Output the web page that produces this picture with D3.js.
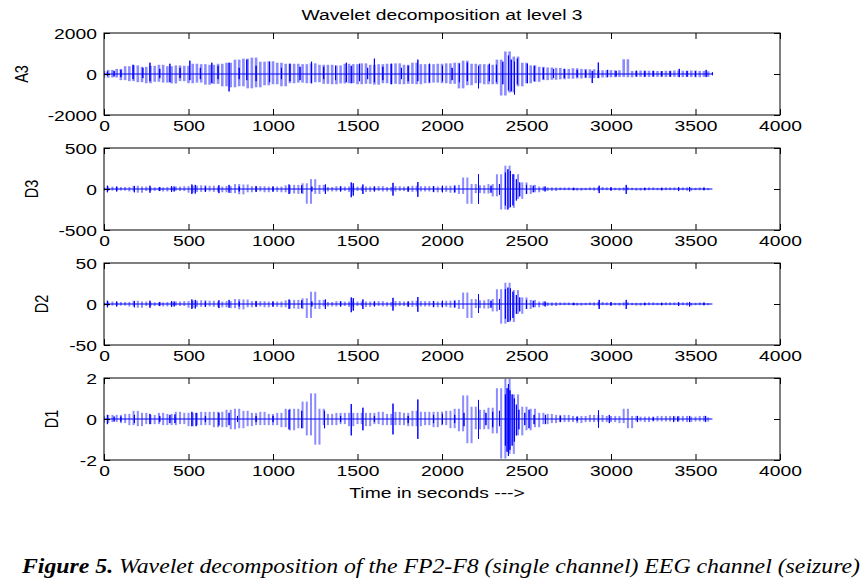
<!DOCTYPE html>
<html><head><meta charset="utf-8">
<script src="https://cdn.jsdelivr.net/npm/d3@7"></script>
<style>body{margin:0;background:#fff}svg{display:block}</style>
</head><body>
<svg id="c" width="864" height="588"></svg>
<script>
// ---------- data ----------
const titleText = "Wavelet decomposition at level 3";
const xLabelText = "Time in seconds --->";
const captionBold = "Figure 5.";
const captionRest = " Wavelet decomposition of the FP2-F8 (single channel) EEG channel (seizure)";
const xTicks = [0, 500, 1000, 1500, 2000, 2500, 3000, 3500, 4000];
const panelNames = ["A3", "D3", "D2", "D1"];
const a3Ticks = [-2000, 0, 2000];
const d3Ticks = [-500, 0, 500];
const d2Ticks = [-50, 0, 50];
const d1Ticks = [-2, 0, 2];
// sample times of the light (dense) trace, seconds
const bandTimes = d3.range(0, 3601, 25);

const a3Band = [150,-180,200,-170,250,
 -300,380,-350,420,-400,350,-450,400,
 -380,450,-420,380,-460,420,-350,400,
 -450,500,-420,480,-520,450,-480,500,
 -600,550,-650,700,-600,750,-700,800,
 -650,600,-550,620,-500,550,-600,500,
 -450,500,-420,480,-450,520,-400,450,
 -480,450,-500,420,-460,500,-450,480,
 -500,520,-480,450,-520,480,-450,500,
 -480,520,-500,450,-480,550,-500,480,
 -450,480,-420,500,-450,520,-480,550,
 -700,650,-550,500,-450,480,-500,450,
 -500,700,-1050,1100,-900,850,-600,550,
 -450,420,-380,350,-300,320,-280,300,
 -260,250,-230,280,-220,250,-200,230,
 -200,180,-170,190,-160,180,-150,720,
 -160,150,-140,170,-150,160,-140,150,
 -150,160,-140,170,-150,160,-150,170,
 -160,150,-140,130];
const d3Band = [20,-25,30,-20,25,
 -20,25,-30,40,-45,30,-25,20,
 -25,20,-30,25,-20,30,-25,35,
 -45,40,-35,45,-30,40,-35,30,
 -40,35,-50,60,-65,55,-40,35,
 -30,35,-40,30,-35,30,-40,45,
 -55,50,-60,70,-180,120,-60,50,
 -30,25,-30,35,-25,30,-35,30,
 -25,30,-35,30,-25,35,-30,25,
 -30,35,-25,30,-35,40,-30,35,
 -30,35,-40,30,-35,40,-45,50,
 -60,140,-180,60,-50,45,-55,60,
 -90,180,-250,285,-230,180,-120,80,
 -60,50,-40,30,-25,20,-25,20,
 -15,20,-15,15,-20,15,-15,20,
 -20,25,-15,20,-15,15,-20,20,
 -15,15,-20,15,-15,20,-15,15,
 -15,20,-15,20,-15,20,-20,15,
 -15,20,-15,10];
const d2Band = [2,-2.5,3,-2,2.5,
 -2,2.5,-3,4,-4.5,3,-2.5,2,
 -2.5,2,-3,2.5,-2,3,-2.5,3.5,
 -4.5,4,-3.5,4.5,-3,4,-3.5,3,
 -4,3.5,-5,6,-6.5,5.5,-4,3.5,
 -3,3.5,-4,3,-3.5,3,-4,4.5,
 -5.5,5,-6,7,-17,15,-6,5,
 -3,2.5,-3,3.5,-2.5,3,-3.5,3,
 -2.5,3,-3.5,3,-2.5,3.5,-3,2.5,
 -3,3.5,-2.5,3,-3.5,4,-3,3.5,
 -3,3.5,-4,3,-3.5,4,-4.5,5,
 -6,14,-17,6,-5,4.5,-5.5,6,
 -9,18,-24,26,-22,17,-12,8,
 -6,5,-4,3,-2.5,2,-2.5,2,
 -1.5,2,-1.5,1.5,-2,1.5,-1.5,2,
 -2,2.5,-1.5,2,-1.5,1.5,-2,2,
 -1.5,1.5,-2,1.5,-1.5,2,-1.5,1.5,
 -1.5,2,-1.5,2,-1.5,2,-2,1.5,
 -1.5,2,-1.5,1];
const d1Band = [0.15,-0.2,0.2,-0.15,0.2,
 -0.2,0.25,-0.3,0.4,-0.35,0.3,-0.25,0.2,
 -0.25,0.3,-0.3,0.25,-0.3,0.35,-0.25,0.3,
 -0.35,0.3,-0.3,0.35,-0.3,0.35,-0.4,0.35,
 -0.4,0.45,-0.5,0.5,-0.45,0.4,-0.35,0.3,
 -0.3,0.35,-0.3,0.25,-0.3,0.3,-0.4,0.5,
 -0.55,0.5,-0.45,0.85,-0.8,1.25,-1.25,0.5,
 -0.3,0.25,-0.3,0.3,-0.25,0.3,-0.35,0.3,
 -0.25,0.3,-0.35,0.3,-0.25,0.35,-0.3,0.25,
 -0.3,0.35,-0.3,0.3,-0.35,0.4,-0.35,0.35,
 -0.3,0.35,-0.4,0.35,-0.3,0.4,-0.45,0.5,
 -0.6,1.15,-1.18,0.6,-0.5,0.45,-0.5,0.55,
 -0.7,1.5,-1.93,1.96,-1.7,1.2,-0.8,0.6,
 -0.55,0.5,-0.4,0.3,-0.25,0.25,-0.2,0.2,
 -0.15,0.2,-0.15,0.15,-0.2,0.15,-0.15,0.2,
 -0.15,0.2,-0.15,0.15,-0.15,0.15,-0.2,0.5,
 -0.45,0.15,-0.12,0.12,-0.15,0.12,-0.12,0.15,
 -0.12,0.15,-0.12,0.15,-0.12,0.15,-0.15,0.12,
 -0.12,0.15,-0.12,0.08];

// dark spikes: [time, high, low]
const a3Spikes = [[20,120,-100],[60,150,-120],[100,200,-150],[172,450,-250],[230,300,-200],[272,550,-350],[330,250,-200],[390,500,-400],[450,300,-200],[508,650,-300],[570,300,-250],[638,550,-450],[675,400,-250],[740,550,-850],[800,300,-250],[845,700,-300],[900,400,-350],[980,600,-400],[1050,300,-250],[1100,500,-350],[1160,350,-300],[1228,600,-450],[1300,350,-250],[1370,400,-300],[1434,550,-400],[1463,400,-450],[1512,500,-350],[1560,300,-250],[1600,750,-400],[1650,350,-300],[1700,500,-500],[1760,300,-250],[1800,400,-350],[1857,700,-350],[1926,500,-400],[2003,400,-350],[2060,300,-300],[2103,500,-400],[2150,550,-350],[2216,400,-700],[2280,500,-350],[2322,450,-400],[2360,600,-500],[2393,900,-800],[2410,700,-850],[2429,600,-1000],[2446,750,-500],[2505,500,-450],[2546,400,-350],[2600,300,-250],[2660,250,-200],[2724,250,-200],[2800,200,-150],[2850,180,-160],[2889,150,-440],[2925,560,-200],[2980,200,-150],[3030,150,-120],[3150,160,-120],[3200,140,-130],[3250,150,-120],[3300,130,-110],[3350,140,-130],[3404,250,-150],[3450,150,-130],[3500,140,-120],[3563,200,-150],[3600,80,-60]];
const d3Spikes = [[20,40,-40],[75,30,-30],[180,35,-40],[272,40,-45],[330,25,-25],[400,35,-35],[415,30,-30],[520,55,-60],[540,50,-55],[600,30,-35],[680,45,-50],[740,50,-45],[800,30,-30],[900,35,-35],[1000,30,-30],[1095,55,-60],[1170,45,-50],[1230,30,-30],[1310,55,-60],[1400,30,-30],[1463,80,-100],[1475,70,-80],[1532,55,-60],[1600,30,-30],[1710,75,-80],[1800,30,-30],[1857,85,-95],[1950,35,-35],[2003,40,-40],[2075,35,-40],[2216,180,-180],[2290,40,-45],[2340,60,-70],[2375,200,-200],[2390,240,-250],[2405,220,-220],[2420,180,-200],[2440,120,-140],[2460,80,-90],[2500,50,-60],[2540,40,-40],[2610,30,-30],[2780,15,-15],[2930,40,-50],[3000,20,-20],[3090,50,-60],[3200,15,-15],[3300,15,-15],[3400,20,-25],[3465,25,-30],[3550,15,-15]];
const d2Spikes = [[20,4,-4],[75,3,-3],[180,3.5,-4],[272,4,-4.5],[330,2.5,-2.5],[400,3.5,-3.5],[415,3,-3],[520,5.5,-6],[540,5,-5.5],[600,3,-3.5],[680,4.5,-5],[740,5,-4.5],[800,3,-3],[900,3.5,-3.5],[1000,3,-3],[1095,5.5,-6],[1170,4.5,-5],[1230,3,-3],[1310,5.5,-6],[1400,3,-3],[1463,8,-10],[1475,7,-8],[1532,5.5,-6],[1600,3,-3],[1710,7.5,-8],[1800,3,-3],[1857,8.5,-9.5],[1950,3.5,-3.5],[2003,4,-4],[2075,3.5,-4],[2216,12,-11],[2290,4,-4.5],[2340,6,-7],[2375,18,-18],[2390,20,-22],[2405,19,-20],[2420,15,-17],[2440,11,-12],[2460,8,-9],[2500,5,-6],[2540,4,-4],[2610,3,-3],[2780,1.5,-1.5],[2930,5,-6],[3000,2,-2],[3090,5,-6],[3200,1.5,-1.5],[3300,1.5,-1.5],[3400,2,-2.5],[3465,2.5,-3],[3550,1.5,-1.5]];
const d1Spikes = [[20,0.2,-0.25],[60,0.12,-0.12],[100,0.12,-0.12],[180,0.2,-0.2],[272,0.25,-0.25],[330,0.15,-0.15],[390,0.2,-0.2],[420,0.22,-0.2],[520,0.35,-0.35],[545,0.3,-0.35],[600,0.15,-0.15],[680,0.3,-0.32],[740,0.3,-0.3],[790,0.15,-0.15],[900,0.15,-0.15],[1000,0.15,-0.15],[1095,0.45,-0.5],[1170,0.4,-0.45],[1305,0.4,-0.45],[1400,0.15,-0.15],[1463,0.73,-0.8],[1532,0.55,-0.55],[1600,0.15,-0.15],[1710,0.75,-0.75],[1800,0.15,-0.2],[1857,0.95,-0.97],[1950,0.2,-0.2],[2003,0.25,-0.25],[2075,0.2,-0.2],[2130,0.3,-0.35],[2216,0.93,-0.97],[2260,0.3,-0.3],[2300,0.35,-0.4],[2340,0.4,-0.35],[2375,1.2,-1.3],[2385,1.5,-1.6],[2393,1.7,-1.8],[2402,1.4,-1.5],[2415,1.2,-1.3],[2428,1.0,-1.1],[2440,0.7,-0.8],[2455,0.45,-0.5],[2490,0.3,-0.3],[2515,0.45,-0.45],[2545,0.2,-0.25],[2612,0.2,-0.25],[2700,0.15,-0.15],[2800,0.1,-0.1],[2926,0.42,-0.42],[2990,0.2,-0.2],[3157,0.15,-0.15],[3250,0.08,-0.08],[3370,0.12,-0.15],[3395,0.12,-0.12],[3465,0.15,-0.15],[3560,0.15,-0.15]];

// ---------- drawing ----------
const panels = [
  {name: panelNames[0], ticks: a3Ticks, band: a3Band, spikes: a3Spikes, labelX: 23, bw: 2.6},
  {name: panelNames[1], ticks: d3Ticks, band: d3Band, spikes: d3Spikes, labelX: 33, bw: 2.0},
  {name: panelNames[2], ticks: d2Ticks, band: d2Band, spikes: d2Spikes, labelX: 43, bw: 2.0},
  {name: panelNames[3], ticks: d1Ticks, band: d1Band, spikes: d1Spikes, labelX: 53, bw: 2.0}
];
const svg = d3.select("#c");
const FONT = "'Liberation Sans', Arial, sans-serif";
const SX = 1.33;             // horizontal stretch of the original raster text
const left = 104, right = 780, top0 = 33, ph = 82, step = 115;
const x = d3.scaleLinear().domain([0, 4000]).range([left, right]);
const LIGHT = "#8c8cff", DARK = "#0000ff";
const fmt = d => String(d);

svg.append("text").attr("transform", `translate(442,20) scale(${SX},1)`)
  .attr("text-anchor", "middle").attr("font-family", FONT).attr("font-size", 14.5)
  .text(titleText);

panels.forEach((p, i) => {
  const y0 = top0 + i * step, y1 = y0 + ph;
  const y = d3.scaleLinear().domain([p.ticks[0], p.ticks[2]]).range([y1, y0]);
  const g = svg.append("g");
  const cid = "clip" + i;
  svg.append("clipPath").attr("id", cid).append("rect")
    .attr("x", left).attr("y", y0).attr("width", right - left).attr("height", ph);
  const plot = g.append("g").attr("clip-path", `url(#${cid})`);
  const line = d3.line().x(d => x(d[0])).y(d => y(d[1]));

  // light dense trace: vertical strokes from each sample to the next
  const segs = bandTimes.slice(0, -1).map((t, k) => [t, p.band[k], p.band[k + 1]]);
  plot.append("g").selectAll("line").data(segs).join("line")
    .attr("x1", d => x(d[0])).attr("x2", d => x(d[0]))
    .attr("y1", d => y(d[1])).attr("y2", d => y(d[2]))
    .attr("stroke", LIGHT).attr("stroke-width", p.bw);

  // dark trace: baseline with spikes
  const pts = [[0, 0]];
  p.spikes.forEach(s => { pts.push([s[0], 0], [s[0], s[1]], [s[0], s[2]], [s[0], 0]); });
  pts.push([3600, 0]);
  plot.append("path").datum(pts).attr("d", line).attr("fill", "none")
    .attr("stroke", DARK).attr("stroke-width", 1);

  // box
  g.append("rect").attr("x", left).attr("y", y0).attr("width", right - left).attr("height", ph)
    .attr("fill", "none").attr("stroke", "#000").attr("stroke-width", 1);

  // x ticks (inward top and bottom)
  const axB = d3.axisBottom(x).tickValues(xTicks).tickSizeInner(-6).tickSizeOuter(0).tickFormat(fmt);
  const gb = g.append("g").attr("transform", `translate(0,${y1})`).call(axB);
  gb.select(".domain").remove();
  gb.selectAll("line").attr("stroke", "#000");
  gb.selectAll("text").attr("y", 0).attr("dy", 0)
    .attr("transform", `translate(0,16) scale(${SX},1)`)
    .attr("font-family", FONT).attr("font-size", 14.5).attr("fill", "#000");
  const axT = d3.axisTop(x).tickValues(xTicks).tickSizeInner(-6).tickSizeOuter(0).tickFormat("");
  const gt = g.append("g").attr("transform", `translate(0,${y0})`).call(axT);
  gt.select(".domain").remove();
  gt.selectAll("line").attr("stroke", "#000");

  // y ticks
  const axL = d3.axisLeft(y).tickValues(p.ticks).tickSizeInner(-6).tickSizeOuter(0).tickFormat(fmt);
  const gl = g.append("g").attr("transform", `translate(${left},0)`).call(axL);
  gl.select(".domain").remove();
  gl.selectAll("line").attr("stroke", "#000");
  gl.selectAll("text").attr("x", 0).attr("dy", 0)
    .attr("transform", `translate(-7,5) scale(${SX},1)`)
    .attr("text-anchor", "end")
    .attr("font-family", FONT).attr("font-size", 14.5).attr("fill", "#000");
  const axR = d3.axisRight(y).tickValues(p.ticks).tickSizeInner(-6).tickSizeOuter(0).tickFormat("");
  const gr = g.append("g").attr("transform", `translate(${right},0)`).call(axR);
  gr.select(".domain").remove();
  gr.selectAll("line").attr("stroke", "#000");

  // panel label
  svg.append("text")
    .attr("transform", `translate(${p.labelX + 5},${(y0 + y1) / 2}) scale(${SX},1) rotate(-90)`)
    .attr("text-anchor", "middle").attr("font-family", FONT).attr("font-size", 14.5)
    .text(p.name);
});

svg.append("text").attr("transform", `translate(437,498) scale(${SX},1)`)
  .attr("text-anchor", "middle").attr("font-family", FONT).attr("font-size", 14.5)
  .text(xLabelText);

const cap = svg.append("text").attr("x", 22).attr("y", 573)
  .attr("font-family", "'Liberation Serif', 'Times New Roman', serif").attr("font-size", 21)
  .attr("font-style", "italic").attr("textLength", 838).attr("lengthAdjust", "spacingAndGlyphs");
cap.append("tspan").attr("font-weight", "bold").text(captionBold);
cap.append("tspan").text(captionRest);
</script>
</body></html>
